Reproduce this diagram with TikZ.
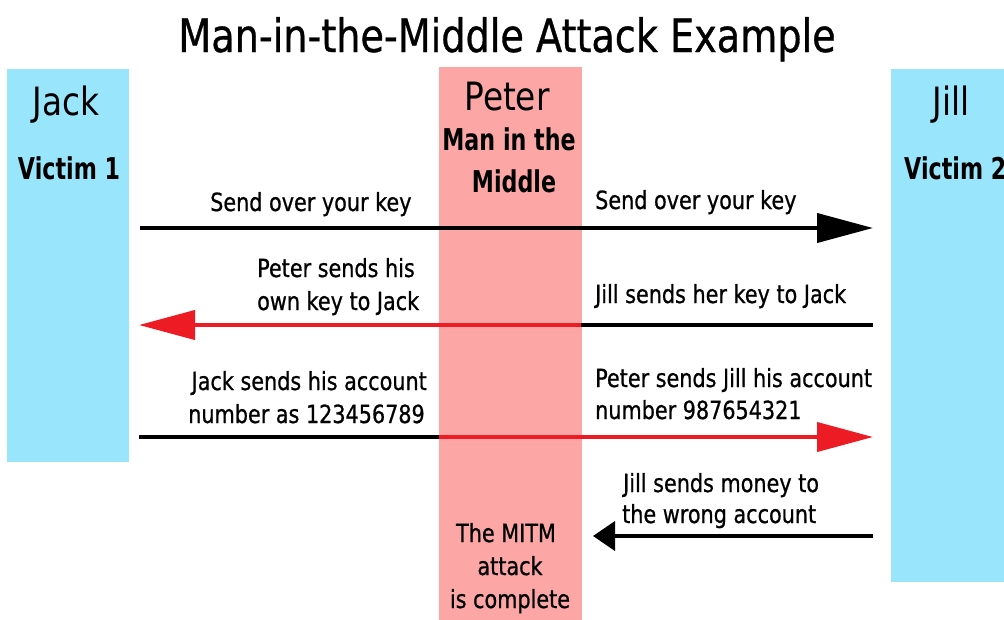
\documentclass[tikz,border=0pt]{standalone}
\usepackage{fontspec}
\setmainfont{DejaVu Sans}[FakeStretch=0.84]
\newfontfamily\nbold{DejaVu Sans Bold}[FakeStretch=0.74]
\newfontfamily\lblfont{DejaVu Sans}[FakeStretch=0.83, FakeBold=0.7]
\usetikzlibrary{arrows.meta}
\definecolor{vicblue}{RGB}{153,229,252}
\definecolor{mitmpink}{RGB}{252,166,166}
\definecolor{arrred}{RGB}{237,28,36}
\begin{document}
\begin{tikzpicture}[x=1pt,y=-1pt,
  panel/.style={draw=none, inner sep=0pt, anchor=north west},
  lbl/.style={inner sep=0pt, font=\lblfont\fontsize{25}{30}\selectfont},
  big/.style={inner sep=0pt, anchor=base, font=\fontsize{39}{45}\selectfont},
  sub/.style={inner sep=0pt, font=\nbold\fontsize{30}{36}\selectfont},
  blk/.style={line width=4pt, draw=black},
  redl/.style={line width=4pt, draw=arrred},
  longtip/.style={-{Triangle[length=56pt,width=29pt]}},
  shorttip/.style={-{Triangle[length=22pt,width=29pt]}}
]
\clip (0,0) rectangle (1004,619);
\fill[white] (0,0) rectangle (1004,619);

% title
\node[inner sep=0pt, anchor=base, font=\lblfont\fontsize{46}{52}\selectfont] (title) at (507,52) {Man-in-the-Middle Attack Example};

% panels
\node[panel, fill=vicblue, minimum width=122pt, minimum height=393pt] (jack) at (7,69) {};
\node[panel, fill=mitmpink, minimum width=143pt, minimum height=560pt] (peter) at (439,67) {};
\node[panel, fill=vicblue, minimum width=125pt, minimum height=513pt] (jill) at (891,69) {};

% panel titles
\node[big] (jackname) at (66,115) {Jack};
\node[sub, anchor=base] (jackrole) at (69,179) {Victim 1};
\node[big] (jillname) at (951,115) {Jill};
\node[sub, anchor=base west] (jillrole) at (904,179) {Victim 2};
\node[big] (petername) at (507,110) {Peter};
\node[sub, anchor=base] (peterrole1) at (509,150) {Man in the};
\node[sub, anchor=base] (peterrole2) at (514,192) {Middle};

% message 1
\coordinate (m1a) at (140,228);
\coordinate (m1b) at (873,228);
\draw[blk, longtip] (m1a) -- (m1b);
\node[lbl, anchor=base west] (t1a) at (210,211) {Send over your key};
\node[lbl, anchor=base west] (t1b) at (595,209) {Send over your key};

% message 2
\coordinate (m2a) at (873,325);
\coordinate (m2p) at (581,325);
\coordinate (m2b) at (139,325);
\draw[blk] (m2a) -- (m2p);
\draw[redl, longtip] (m2p) -- (m2b);
\node[lbl, anchor=base west] (t2a1) at (257,277) {Peter sends his};
\node[lbl, anchor=base west] (t2a2) at (257,310) {own key to Jack};
\node[lbl, anchor=base west] (t2b) at (595,303) {Jill sends her key to Jack};

% message 3
\coordinate (m3a) at (139,437);
\coordinate (m3p) at (439,437);
\coordinate (m3b) at (873,437);
\draw[blk] (m3a) -- (m3p);
\draw[redl, longtip] (m3p) -- (m3b);
\node[lbl, anchor=base east] (t3a1) at (427,390) {Jack sends his account};
\node[lbl, anchor=base east] (t3a2) at (425,423) {number as 123456789};
\node[lbl, anchor=base west] (t3b1) at (595,387) {Peter sends Jill his account};
\node[lbl, anchor=base west] (t3b2) at (595,419) {number 987654321};

% message 4
\coordinate (m4a) at (873,536);
\coordinate (m4b) at (593,536);
\draw[blk, shorttip] (m4a) -- (m4b);
\node[lbl, anchor=base west] (t4a) at (623,492) {Jill sends money to};
\node[lbl, anchor=base west] (t4b) at (622,523) {the wrong account};

% result
\node[lbl, anchor=base] (r1) at (506,542) {The MITM};
\node[lbl, anchor=base] (r2) at (510,575) {attack};
\node[lbl, anchor=base] (r3) at (510,608) {is complete};
\end{tikzpicture}
\end{document}
